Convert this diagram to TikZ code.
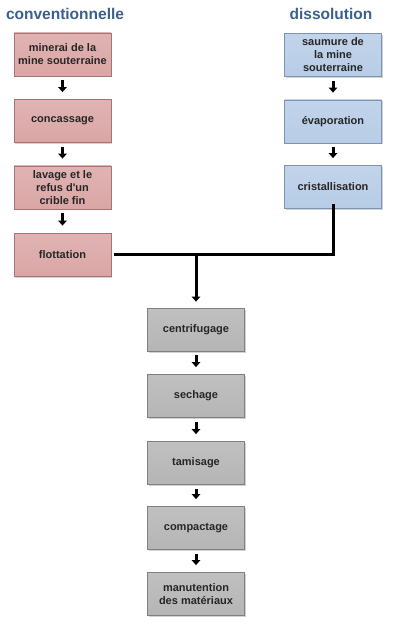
\documentclass[tikz,border=0pt]{standalone}
\usepackage{fontspec}
\setmainfont{Liberation Sans}
\usetikzlibrary{shadows,arrows.meta}
\definecolor{titleblue}{HTML}{3B5F8E}
\definecolor{pinkfill}{HTML}{DAA6A5}
\definecolor{pinkedge}{HTML}{A87472}
\definecolor{bluefill}{HTML}{B7CCE6}
\definecolor{blueedge}{HTML}{7C94B4}
\definecolor{grayfill}{HTML}{B5B5B5}
\definecolor{grayedge}{HTML}{808080}
\tikzset{
  x=1pt, y=-1pt,
  stepbase/.style={minimum width=97pt, minimum height=43pt, inner sep=1pt, align=center,
    font=\fontsize{11}{13}\selectfont\bfseries, text=black!85, line width=0.8pt,
    drop shadow={opacity=0.35, shadow xshift=1pt, shadow yshift=-1.5pt}},
  pinkbox/.style={stepbase, top color=pinkfill!85!white, bottom color=pinkfill, draw=pinkedge},
  bluebox/.style={stepbase, top color=bluefill!85!white, bottom color=bluefill, draw=blueedge},
  graybox/.style={stepbase, top color=grayfill!85!white, bottom color=grayfill, draw=grayedge},
  titletext/.style={font=\fontsize{15.5}{17}\selectfont\bfseries, text=titleblue},
  smallarrow/.style={line width=3pt, -{Triangle[width=8.5pt,length=5pt]}, shorten <=4pt, shorten >=7pt},
  joinline/.style={line width=3pt},
}
\begin{document}
\begin{tikzpicture}
\useasboundingbox (0,0) rectangle (400,628);
\fill[white] (0,0) rectangle (400,628);
\node[titletext] (t1) at (65,14) {conventionnelle};
\node[titletext] (t2) at (331,14) {dissolution};

\node[pinkbox] (l1) at (62.5,54.5) {minerai de la\\mine souterraine};
\node[pinkbox] (l2) at (62.5,121) {concassage};
\node[pinkbox] (l3) at (62.5,187.5) {lavage et le\\refus d\textquotesingle un\\crible fin};
\node[pinkbox] (l4) at (62.5,254.5) {flottation};

\node[bluebox] (r1) at (333,55) {saumure de\\la mine\\souterraine};
\node[bluebox] (r2) at (333,121.5) {évaporation};
\node[bluebox] (r3) at (333,187) {cristallisation};

\node[graybox] (c1) at (196,329.5) {centrifugage};
\node[graybox] (c2) at (196,396) {sechage};
\node[graybox] (c3) at (196,463) {tamisage};
\node[graybox] (c4) at (196,528) {compactage};
\node[graybox] (c5) at (196,594) {manutention\\des matériaux};

\draw[smallarrow] (l1) -- (l2);
\draw[smallarrow] (l2) -- (l3);
\draw[smallarrow] (l3) -- (l4);
\draw[smallarrow] (r1) -- (r2);
\draw[smallarrow] (r2) -- (r3);
\draw[smallarrow] (c1) -- (c2);
\draw[smallarrow] (c2) -- (c3);
\draw[smallarrow] (c3) -- (c4);
\draw[smallarrow] (c4) -- (c5);

\coordinate (jr) at (333,254);
\coordinate (jm) at (196,254);
\draw[joinline] ([xshift=3pt]l4.east |- jr) -- (jr) -- ([yshift=5pt]r3.south);
\draw[joinline, -{Triangle[width=8.5pt,length=5pt]}, shorten >=6pt] (jm) -- (c1.north);
\end{tikzpicture}
\end{document}
